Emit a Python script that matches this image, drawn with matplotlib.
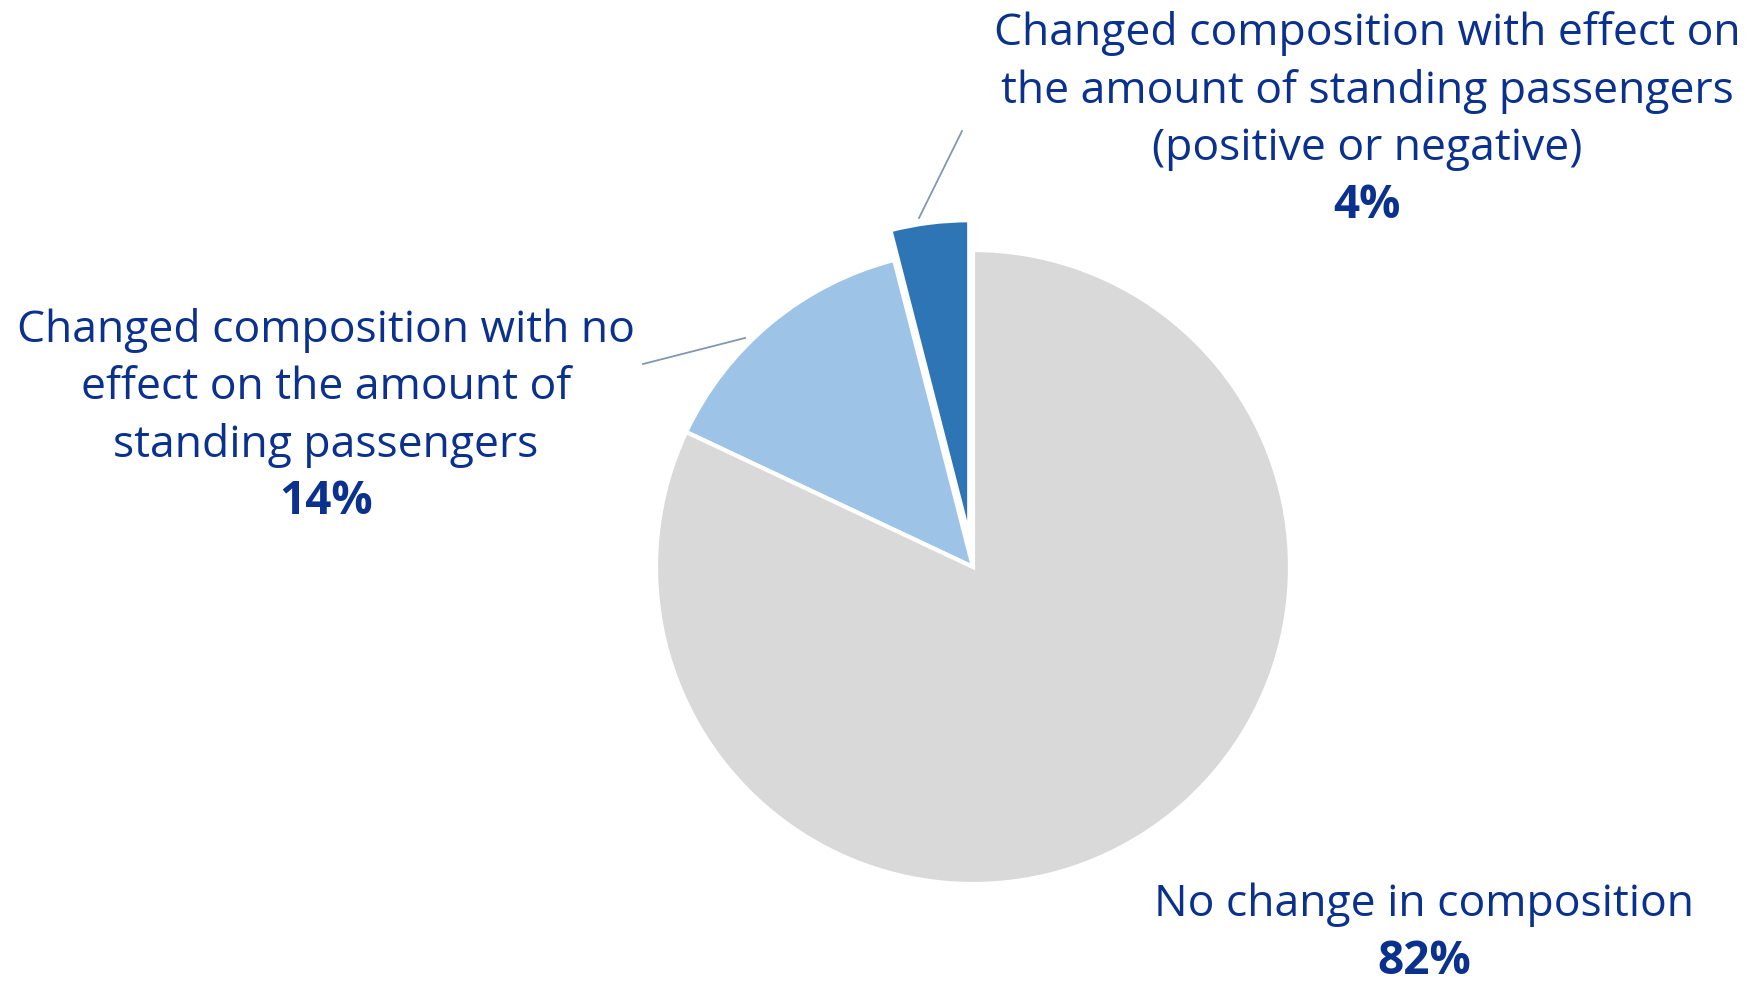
import matplotlib.pyplot as plt
import numpy as np

# data
labels = ["Changed composition with effect on\nthe amount of standing passengers\n(positive or negative)",
          "Changed composition with no\neffect on the amount of\nstanding passengers",
          "No change in composition"]
values = [4, 14, 82]
colors = ["#2e75b6", "#9dc3e6", "#d9d9d9"]

text_color = "#0b318f"
line_color = "#8497b0"

plt.rcParams['font.family'] = ['Open Sans', 'DejaVu Sans']

W, H = 1749, 984
fig = plt.figure(figsize=(W / 100, H / 100), dpi=100)
ax = fig.add_axes([0, 0, 1, 1])

cx, cy, r = 973, H - 567, 317
# explode is in data units here (pie center/radius are in pixels)
wedges, _ = ax.pie(values, colors=colors, startangle=90, counterclock=True,
                   center=(cx, cy), radius=r, explode=[30, 0, 0],
                   wedgeprops=dict(edgecolor="white", linewidth=3))
ax.set_xlim(0, W)
ax.set_ylim(0, H)
ax.set_aspect("equal")
ax.axis("off")

# label positions (pixel layout, y from top)
label_pos = [(1367, 91), (326, 388), (1424, 905)]
pct_pos = [(1367, 206), (326, 502), (1424, 962)]

for i, (lab, val) in enumerate(zip(labels, values)):
    lx, ly = label_pos[i]
    ax.text(lx, H - ly, lab, ha="center", va="center", fontsize=32,
            color=text_color, linespacing=1.38)
    px, py = pct_pos[i]
    ax.text(px, H - py, f"{val}%", ha="center", va="center", fontsize=33,
            fontweight="bold", color=text_color)

# leader lines
leaders = [((919, 218), (962, 131)), ((745, 338), (643, 364))]
for (x0, y0), (x1, y1) in leaders:
    ax.plot([x0, x1], [H - y0, H - y1], color=line_color, lw=1.3)

fig.savefig("out.png", dpi=100)
